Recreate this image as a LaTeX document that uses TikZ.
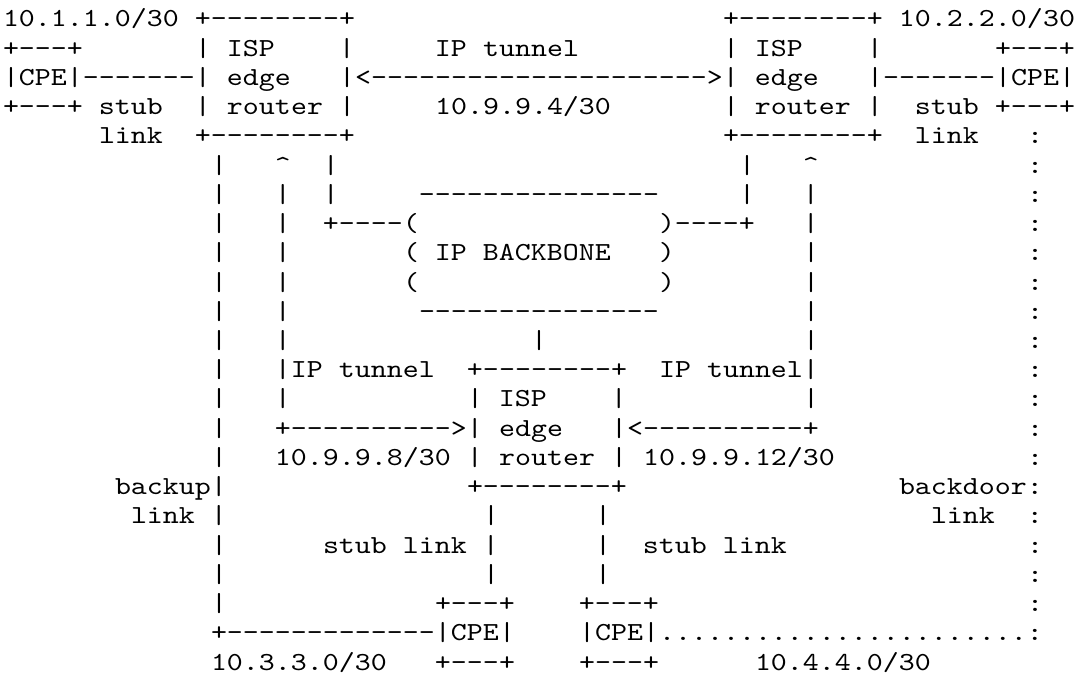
\documentclass[tikz,border=0pt]{standalone}
\usepackage{fontspec}
\setmonofont{lmmono10-regular.otf}[FakeStretch=1.17]
\newcommand\mono{\ttfamily\fontsize{26pt}{29pt}\selectfont}
\newlength\cw
\setlength\cw{16pt}
\newcommand\sk[1]{\hspace*{#1\cw}}
\newcommand\crt{\textasciicircum}
\ExplSyntaxOn
\NewDocumentCommand\asc{m}
  {
    \tl_map_inline:nn {#1}
      {
        \str_if_eq:nnTF {##1} {*}
          { \hspace*{\cw} }
          { \makebox[\cw]{##1} }
      }
  }
\ExplSyntaxOff
\begin{document}
\begin{tikzpicture}[x=1pt,y=1pt,
  asciirow/.style={anchor=base west, inner sep=0pt, outer sep=0pt, font=\mono, text=black}]
\fill[white] (0,0) rectangle (1077,-677);
\useasboundingbox (0,0) rectangle (1077,-677);
\node[asciirow] (r1) at (3,-27.00) {\asc{10.1.1.0/30*+--------+}\sk{23}\asc{+--------+*10.2.2.0/30}};
\node[asciirow] (r2) at (3,-56.23) {\asc{+---+}\sk{7}\asc{|*ISP}\sk{4}\asc{|}\sk{5}\asc{IP*tunnel}\sk{9}\asc{|*ISP}\sk{4}\asc{|}\sk{7}\asc{+---+}};
\node[asciirow] (r3) at (3,-85.46) {\asc{|CPE|-------|*edge***|<}\asc{----------}\asc{----------}\asc{-}\asc{>|*edge***|-------|CPE|}};
\node[asciirow] (r4) at (3,-114.69) {\asc{+---+*stub**|*router*|}\sk{5}\asc{10.9.9.4/30}\sk{7}\asc{|*router*|**stub*+---+}};
\node[asciirow] (r5) at (3,-143.92) {\sk{6}\asc{link**+--------+}\sk{23}\asc{+--------+**link***:}};
\node[asciirow] (r6) at (3,-173.15) {\sk{13}\asc{|***\crt**|}\sk{25}\asc{|***\crt}\sk{13}\asc{:}};
\node[asciirow] (r7) at (3,-202.38) {\sk{13}\asc{|***|**|}\sk{5}\asc{---------------}\sk{5}\asc{|***|}\sk{13}\asc{:}};
\node[asciirow] (r8) at (3,-231.61) {\sk{13}\asc{|***|**+----(}\sk{15}\asc{)----+***|}\sk{13}\asc{:}};
\node[asciirow] (r9) at (3,-260.84) {\sk{13}\asc{|***|}\sk{7}\asc{(*IP*BACKBONE***)}\sk{8}\asc{|}\sk{13}\asc{:}};
\node[asciirow] (r10) at (3,-290.07) {\sk{13}\asc{|***|}\sk{7}\asc{(}\sk{15}\asc{)}\sk{8}\asc{|}\sk{13}\asc{:}};
\node[asciirow] (r11) at (3,-319.30) {\sk{13}\asc{|***|}\sk{8}\asc{---------------}\sk{9}\asc{|}\sk{13}\asc{:}};
\node[asciirow] (r12) at (3,-348.53) {\sk{13}\asc{|***|}\sk{15}\asc{|}\sk{16}\asc{|}\sk{13}\asc{:}};
\node[asciirow] (r13) at (3,-377.76) {\sk{13}\asc{|***|IP*tunnel**+--------+**IP*tunnel|}\sk{13}\asc{:}};
\node[asciirow] (r14) at (3,-406.99) {\sk{13}\asc{|***|}\sk{11}\asc{|*ISP****|}\sk{11}\asc{|}\sk{13}\asc{:}};
\node[asciirow] (r15) at (3,-436.22) {\sk{13}\asc{|***+---------->|*edge***|<----------+}\sk{13}\asc{:}};
\node[asciirow] (r16) at (3,-465.45) {\sk{13}\asc{|***10.9.9.8/30*|*router*|*10.9.9.12/30}\sk{12}\asc{:}};
\node[asciirow] (r17) at (3,-494.68) {\sk{7}\asc{backup|}\sk{15}\asc{+--------+}\sk{17}\asc{backdoor:}};
\node[asciirow] (r18) at (3,-523.91) {\sk{8}\asc{link*|}\sk{16}\asc{|}\sk{6}\asc{|}\sk{20}\asc{link**:}};
\node[asciirow] (r19) at (3,-553.14) {\sk{13}\asc{|}\sk{6}\asc{stub*link*|}\sk{6}\asc{|**stub*link}\sk{15}\asc{:}};
\node[asciirow] (r20) at (3,-582.37) {\sk{13}\asc{|}\sk{16}\asc{|}\sk{6}\asc{|}\sk{26}\asc{:}};
\node[asciirow] (r21) at (3,-611.60) {\sk{13}\asc{|}\sk{13}\asc{+---+****+---+}\sk{23}\asc{:}};
\node[asciirow] (r22) at (3,-640.83) {\sk{13}\asc{+-------------|CPE|****|CPE|.......................:}};
\node[asciirow] (r23) at (3,-670.06) {\sk{13}\asc{10.3.3.0/30***+---+****+---+}\sk{6}\asc{10.4.4.0/30}};
\end{tikzpicture}
\end{document}
